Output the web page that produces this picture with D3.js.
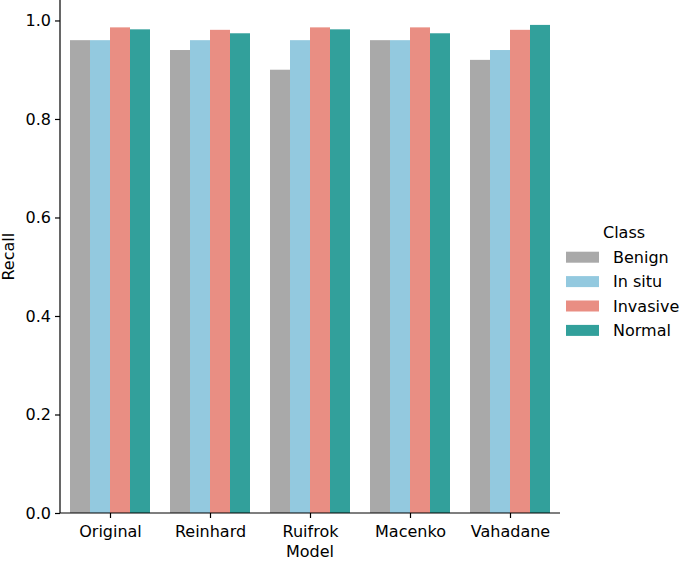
<!DOCTYPE html>
<html>
<head>
<meta charset="utf-8">
<script src="https://cdn.jsdelivr.net/npm/d3@7"></script>
<style>
  body { margin: 0; background: #fff; }
  text { font-family: "DejaVu Sans", sans-serif; fill: #000; }
  .axis path, .axis line { stroke: #000; stroke-width: 1.2; }
</style>
</head>
<body>
<div class="chart"></div>
<script>
var models = ["Original", "Reinhard", "Ruifrok", "Macenko", "Vahadane"];
var classes = ["Benign", "In situ", "Invasive", "Normal"];
var colors = ["#a9a9a9", "#93c9df", "#e98e83", "#32a09b"];

// recall per model, in class order
var benign = [0.96, 0.94, 0.90, 0.96, 0.92];
var inSitu = [0.96, 0.96, 0.96, 0.96, 0.94];
var invasive = [0.986, 0.981, 0.986, 0.986, 0.981];
var normal = [0.982, 0.974, 0.982, 0.974, 0.991];

var yTicks = [0, 0.2, 0.4, 0.6, 0.8, 1.0];

var svgWidth = 682;
var svgHeight = 561;
var fontSize = "16px";

var margin = { top: 0.5, right: 122, bottom: 48, left: 60 };
var width = svgWidth - margin.left - margin.right;
var height = svgHeight - margin.top - margin.bottom;

var svg = d3.select(".chart")
  .append("svg")
  .attr("width", svgWidth)
  .attr("height", svgHeight);

var chartGroup = svg.append("g")
  .attr("transform", `translate(${margin.left}, ${margin.top})`);

var series = [benign, inSitu, invasive, normal];
var data = [];
models.forEach(function(m, i) {
  classes.forEach(function(c, j) {
    data.push({ model: m, cls: c, value: series[j][i], color: colors[j] });
  });
});

var xScale = d3.scaleBand()
  .domain(models)
  .range([0, width])
  .paddingInner(0.2)
  .paddingOuter(0.1);

var xInner = d3.scaleBand()
  .domain(classes)
  .range([0, xScale.bandwidth()]);

var yMax = d3.max(data, d => d.value) * 1.05;
var yScale = d3.scaleLinear()
  .domain([0, yMax])
  .range([height, 0]);

chartGroup.selectAll("rect")
  .data(data)
  .enter()
  .append("rect")
  .attr("x", d => xScale(d.model) + xInner(d.cls))
  .attr("y", d => yScale(d.value))
  .attr("width", xInner.bandwidth())
  .attr("height", d => height - yScale(d.value))
  .attr("fill", d => d.color);

// axes, drawn on top of bars
var xAxisScale = d3.scalePoint().domain(models).range([0, width]).padding(0.5);
var bottomAxis = d3.axisBottom(xAxisScale).tickSizeOuter(0).tickSize(5).tickPadding(8);
var leftAxis = d3.axisLeft(yScale).tickValues(yTicks).tickFormat(d3.format(".1f"))
  .tickSizeOuter(0).tickSize(5).tickPadding(4);

chartGroup.append("g")
  .attr("class", "axis")
  .attr("transform", `translate(0, ${height})`)
  .call(bottomAxis)
  .call(g => g.select(".domain").attr("d", `M0,0H${width}`))
  .call(g => g.attr("font-size", null).attr("font-family", null))
  .selectAll("text")
  .attr("font-size", fontSize);

chartGroup.append("g")
  .attr("class", "axis")
  .call(leftAxis)
  .call(g => g.select(".domain").attr("d", `M0,${height}V${-margin.top}`))
  .call(g => g.attr("font-size", null).attr("font-family", null))
  .selectAll("text")
  .attr("font-size", fontSize);

chartGroup.append("text")
  .attr("transform", "rotate(-90)")
  .attr("x", 0 - height / 2)
  .attr("y", -46.5)
  .attr("text-anchor", "middle")
  .attr("font-size", fontSize)
  .text("Recall");

chartGroup.append("text")
  .attr("x", width / 2)
  .attr("y", height + 44)
  .attr("text-anchor", "middle")
  .attr("font-size", fontSize)
  .text("Model");

// legend
var legend = svg.append("g")
  .attr("transform", "translate(566, 0)");

legend.append("text")
  .attr("x", 58)
  .attr("y", 238)
  .attr("text-anchor", "middle")
  .attr("font-size", fontSize)
  .text("Class");

var items = legend.selectAll(".item")
  .data(classes)
  .enter()
  .append("g")
  .attr("class", "item")
  .attr("transform", (d, i) => `translate(0, ${262.7 + i * 24.4})`);

items.append("rect")
  .attr("x", 0)
  .attr("y", -11)
  .attr("width", 33)
  .attr("height", 11)
  .attr("fill", (d, i) => colors[i]);

items.append("text")
  .attr("x", 47)
  .attr("y", 0)
  .attr("font-size", fontSize)
  .text(d => d);
</script>
</body>
</html>
